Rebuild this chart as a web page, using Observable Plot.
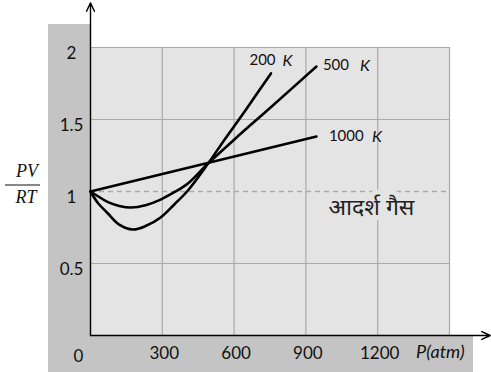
<!DOCTYPE html>
<html>
<head>
<meta charset="utf-8">
<script src="https://cdn.jsdelivr.net/npm/d3@7"></script>
<script src="https://cdn.jsdelivr.net/npm/@observablehq/plot@0.6"></script>
<style>
  html, body { margin: 0; padding: 0; background: #fff; }
  #chart svg { display: block; }
</style>
</head>
<body>
<div id="chart"></div>
<script>
// ---- data ----
const p200 = [0, 31, 73, 120, 178, 230, 293, 350, 407, 491, 560, 650, 754];
const z200 = [1, 0.92, 0.847, 0.77, 0.736, 0.76, 0.82, 0.91, 1.007, 1.194, 1.36, 1.57, 1.82];
const p500 = [0, 31, 73, 120, 169, 230, 293, 350, 407, 491, 600, 750, 944];
const z500 = [1, 0.967, 0.926, 0.9, 0.889, 0.905, 0.944, 0.995, 1.056, 1.194, 1.36, 1.58, 1.868];
const p1000 = [0, 944];
const z1000 = [1, 1.382];
const temps = ["200", "500", "1000"];
const xTicks = [300, 600, 900, 1200];
const xTickLabels = ["300", "600", "900", "1200"];
const yTicks = [0.5, 1, 1.5, 2];
const yTickLabels = ["0.5", "1", "1.5", "2"];
const xGrid = [300, 600, 900, 1200, 1500];
const yGrid = [0.5, 1.5, 2];
const idealValue = 1;
const idealLabel = "आदर्श गैस";
const xLabel = "P(atm)";

const series = [
  {t: temps[0], p: p200, z: z200},
  {t: temps[1], p: p500, z: z500},
  {t: temps[2], p: p1000, z: z1000}
];
const rows = series.flatMap(s => s.p.map((p, i) => ({t: s.t, p, z: s.z[i]})));
const ends = series.map(s => ({t: s.t, p: s.p[s.p.length - 1], z: s.z[s.z.length - 1]}));

const W = 491, H = 372;
const mL = 90, mT = 47, mR = 42, mB = 37;
const font = "Lato, 'Open Sans', sans-serif";
const dev = "'Noto Sans Devanagari', 'Lohit Devanagari', 'Noto Sans', sans-serif";

// label offsets per series (pixels relative to the curve's last point)
const lblOff = {"200": [-21, -13, 12], "500": [7, -1, 44], "1000": [13, 0, 56]};

const chart = Plot.plot({
  width: W, height: H,
  marginLeft: mL, marginTop: mT, marginRight: mR, marginBottom: mB,
  x: {domain: [0, 1500], axis: null},
  y: {domain: [0, 2], axis: null},
  style: {background: "transparent", fontFamily: font},
  marks: [
    Plot.frame({fill: "#e4e4e4", stroke: "#aaaaaa", strokeWidth: 1}),
    Plot.ruleX(xGrid, {stroke: "#aaaaaa", strokeWidth: 1.2}),
    Plot.ruleY(yGrid, {stroke: "#aaaaaa", strokeWidth: 1.2}),
    Plot.ruleY([idealValue], {stroke: "#aaaaaa", strokeWidth: 1.3, strokeDasharray: "5,4"}),
    Plot.text([idealLabel], {x: 1174, y: idealValue, dy: 16, text: d => d, fontSize: 23,
      fontFamily: dev, fill: "#222", stroke: "#e4e4e4", strokeWidth: 10, textAnchor: "middle"}),
    Plot.line(rows, {x: "p", y: "z", z: "t", stroke: "black", strokeWidth: 2.6, curve: "catmull-rom"}),
    // axes with arrows
    Plot.arrow([0], {x1: 0, y1: 0, x2: 0, y2: 2.31, stroke: "black", strokeWidth: 1.4, headLength: 10, headAngle: 50}),
    Plot.arrow([0], {x1: 0, y1: 0, x2: 1670, y2: 0, stroke: "black", strokeWidth: 1.4, headLength: 10, headAngle: 50}),
    // tick labels
    Plot.text(xTicks, {x: d => d, y: 0, dy: 18, dx: 2, text: (d, i) => xTickLabels[i], fontSize: 17, fill: "#111"}),
    Plot.text(yTicks, {x: 0, y: d => d, dx: -19, dy: 6, text: (d, i) => yTickLabels[i], fontSize: 17, fill: "#111"}),
    Plot.text(["0"], {x: 0, y: 0, dx: -12, dy: 21, text: d => d, fontSize: 17, fill: "#111"}),
    Plot.text([xLabel], {x: 1462, y: 0, dy: 17, text: d => d, fontSize: 18, fontStyle: "italic", fill: "#111"})
  ]
});

const sx = chart.scale("x"), sy = chart.scale("y");
const svg = d3.select(chart);

// curve labels: upright number + italic K, positioned through the scales
const lblG = svg.append("g").attr("font-family", font).attr("font-size", 15).attr("fill", "#111")
  .attr("text-anchor", "start");
ends.forEach(e => {
  const [dx, dy, kdx] = lblOff[e.t];
  const px = sx.apply(e.p), py = sy.apply(e.z);
  lblG.append("text").attr("x", px + dx).attr("y", py + dy).attr("dy", "0.35em").text(e.t);
  lblG.append("text").attr("x", px + kdx).attr("y", py + dy).attr("dy", "0.35em")
    .attr("font-style", "italic").attr("font-size", 16).text("K");
});

// gray L-shaped panel behind the plot
const x0 = sx.apply(0), y0 = sy.apply(0);
const bg = svg.insert("g", ":first-child").attr("fill", "#c4c4c4");
bg.append("rect").attr("x", x0 - 42).attr("y", sy.apply(2) - 23).attr("width", 42).attr("height", H - (sy.apply(2) - 23));
bg.append("rect").attr("x", x0 - 42).attr("y", y0).attr("width", sx.apply(1500) + 24 - (x0 - 42)).attr("height", H - y0);

// y-axis title as a fraction PV / RT
const ym = sy.apply(idealValue);
const tG = svg.append("g").attr("font-family", "'Liberation Serif', serif").attr("font-style", "italic")
  .attr("font-size", 18).attr("fill", "#111").attr("text-anchor", "middle");
tG.append("text").attr("x", 27).attr("y", ym - 14).text("PV");
tG.append("text").attr("x", 26).attr("y", ym + 12).text("RT");
svg.append("line").attr("x1", 5).attr("x2", 40).attr("y1", ym - 6).attr("y2", ym - 6)
  .attr("stroke", "#111").attr("stroke-width", 1);

document.getElementById("chart").appendChild(chart);
</script>
</body>
</html>
